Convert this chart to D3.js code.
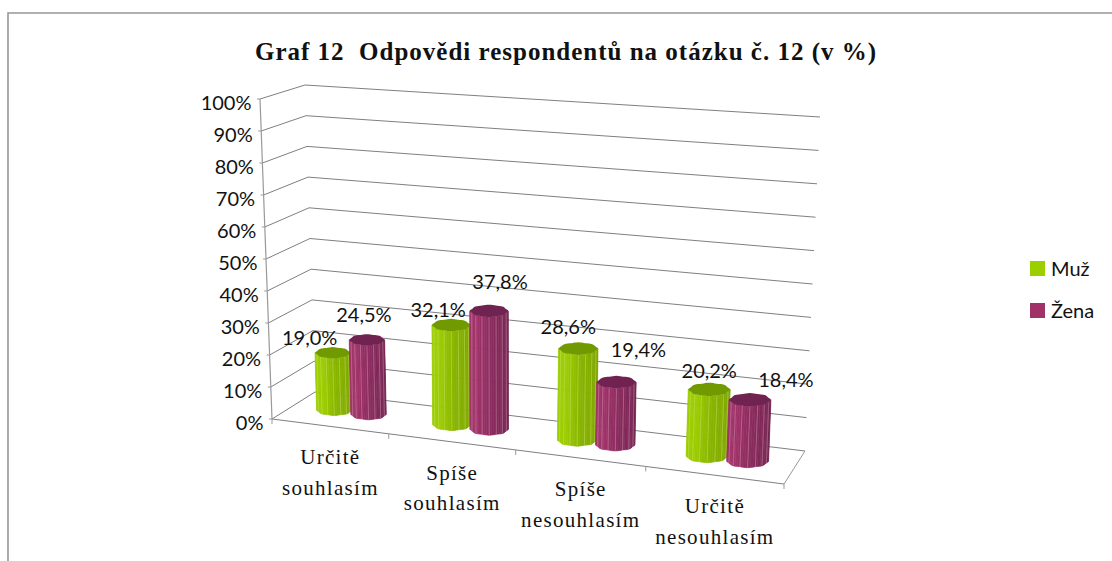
<!DOCTYPE html>
<html><head><meta charset="utf-8">
<script src="https://cdn.jsdelivr.net/npm/d3@7"></script>
<style>html,body{margin:0;padding:0;background:#fff}svg{display:block}</style></head>
<body><div id="c"></div>
<script>
const categories = [["Určitě","souhlasím"],["Spíše","souhlasím"],["Spíše","nesouhlasím"],["Určitě","nesouhlasím"]];
const seriesNames = ["Muž","Žena"];
const muz = [19.0,32.1,28.6,20.2];
const zena = [24.5,37.8,19.4,18.4];
const ticks = [0,10,20,30,40,50,60,70,80,90,100];
const title = "Graf 12  Odpovědi respondentů na otázku č. 12 (v %)";
const seriesValues = [muz, zena];

const W=1112,H=561;
const svg=d3.select("#c").append("svg").attr("width",W).attr("height",H);
svg.append("path").attr("d",`M8,${H}V13H${W}`).attr("fill","none").attr("stroke","#969696").attr("stroke-width",1.6);

// projected box corners
const C={ fl0:[272,419], fr0:[784,484], bl0:[315,392], br0:[805,451],
          fl1:[260,99],  fr1:[801,109], bl1:[305,85],  br1:[820,117] };
const uScale=d3.scaleLinear().domain([0,1,2,3,4]).range([0,.228,.476,.73,1]);
const vScale=d3.scaleLinear().domain([0,100]).range([0,1]);
const barFactor=.95; // bars foreshorten slightly against the walls
const mix=(a,b,t)=>[a[0]+(b[0]-a[0])*t,a[1]+(b[1]-a[1])*t];
function P(cat,d,val){
  const u=uScale(cat),v=vScale(val);
  const f0=mix(C.fl0,C.fr0,u),b0=mix(C.bl0,C.br0,u),f1=mix(C.fl1,C.fr1,u),b1=mix(C.bl1,C.br1,u);
  return mix(mix(f0,b0,d),mix(f1,b1,d),v);
}
const gridC="#7f7f7f";
const seg=(a,b,c=gridC,w=1)=>svg.append("line").attr("x1",a[0]).attr("y1",a[1]).attr("x2",b[0]).attr("y2",b[1]).attr("stroke",c).attr("stroke-width",w);
const font="Lato, sans-serif", serif="'Liberation Serif', serif";

// gridlines on walls
ticks.forEach(t=>{ seg(P(0,0,t),P(0,1,t)); seg(P(0,1,t),P(4,1,t)); });
// floor + axes
seg(P(0,0,0),P(4,0,0)); seg(P(4,0,0),P(4,1,0),"#999");
seg(P(0,0,0),P(0,0,100),"#999",1.2);
ticks.forEach(t=>{const p=P(0,0,t);seg([p[0]-3,p[1]],p,"#999");});
d3.range(0,5).forEach(k=>{const p=P(k,0,0);seg(p,[p[0],p[1]+5],"#999");});

// tick labels
ticks.forEach(t=>{const p=P(0,0,t);
  svg.append("text").attr("x",p[0]-8.5).attr("y",p[1]+11).attr("text-anchor","end")
   .attr("font-family",font).attr("font-size",20).attr("fill","#111").text(t+"%");});

// cylinders
const pal=[{hi:"#9ccc00",lo:"#7ca200",mid:"#88b400",top:"#719a00",edge:"#c8e46a"},
           {hi:"#a03268",lo:"#70244f",mid:"#8a2b5e",top:"#702350",edge:"#d09ab4"}];
const depth=0.52, offs=[-.15,.15], nudge=[[[-23,-15],[-3,-25]],[[-13,-15],[11,-29]],[[-10,-22],[22,-32]],[[0,-18],[36,-20]]];
const poly=d3.line().curve(d3.curveLinearClosed);
const labels=[];
categories.forEach((_,ci)=>{
 seriesValues.forEach((vals,si)=>{
  const val=vals[ci], cat=ci+.5+offs[si], col=pal[si];
  const b=P(cat,depth,0), t0=P(cat,depth,val*barFactor), t=t0;
  const rx=(P(cat+.15,depth,0)[0]-P(cat-.15,depth,0)[0])/2, ry=rx*.32;
  const g=svg.append("g");
  const ramp=d3.scaleLinear().domain([0,.3,.55,1]).range([col.hi,col.hi,col.mid,col.lo]);
  const N=24;
  const sc=a=>1+.035*Math.cos(8*a);
  const pt=(c,a,r=1)=>[c[0]+rx*r*Math.cos(a),c[1]+ry*r*Math.sin(a)];
  d3.range(N).forEach(i=>{
    const a0=Math.PI-i*Math.PI/N,a1=Math.PI-(i+1)*Math.PI/N;
    g.append("path").attr("d",poly([pt(b,a0,sc(a0)),pt(b,a1,sc(a1)),pt(t,a1,sc(a1)),pt(t,a0,sc(a0))]))
     .attr("fill",ramp((i+.5)/N)).attr("stroke",ramp((i+.5)/N)).attr("stroke-width",.6);
  });
  d3.range(1,N).forEach(i=>{ if(i%3) return;
    const a=Math.PI-i*Math.PI/N; const p=pt(b,a),q=pt(t,a);
    g.append("line").attr("x1",p[0]).attr("y1",p[1]).attr("x2",q[0]).attr("y2",q[1])
     .attr("stroke",col.edge).attr("stroke-opacity",.55).attr("stroke-width",.8);
  });
  const M=64;
  const rim=d3.range(M).map(i=>{const a=i/M*2*Math.PI;return pt(t,a,sc(a));});
  g.append("path").attr("d",poly(rim)).attr("fill",col.top);
  labels.push({x:t[0]+nudge[ci][si][0],y:t[1]+nudge[ci][si][1],s:val.toFixed(1).replace(".",",")+"%"});
 });
});
labels.forEach(l=>svg.append("text").attr("x",l.x).attr("y",l.y+7).attr("text-anchor","middle")
  .attr("font-family",font).attr("font-size",20).attr("fill","#111").text(l.s));

// category labels
categories.forEach((lines,ci)=>{
  const p=P(ci+.5,0,0);
  lines.forEach((s,i)=>svg.append("text").attr("x",p[0]).attr("y",p[1]+32+i*30.5+6).attr("text-anchor","middle")
   .attr("font-family",serif).attr("font-size",21).attr("letter-spacing",1.3).attr("fill","#111").text(s));
});

// title
svg.append("text").attr("x",566).attr("y",60).attr("text-anchor","middle").style("white-space","pre")
 .attr("font-family",serif).attr("font-weight","bold").attr("font-size",25).attr("letter-spacing",1).attr("fill","#111").text(title);

// legend
const ly=d3.scaleOrdinal().domain(seriesNames).range([268,310]);
seriesNames.forEach((n,i)=>{
  svg.append("rect").attr("x",1030).attr("y",ly(n)-7).attr("width",15).attr("height",15).attr("fill",i?"#a03268":"#9ccf00");
  svg.append("text").attr("x",1051).attr("y",ly(n)+8).attr("font-family",font).attr("font-size",20).attr("fill","#111").text(n);
});
</script></body></html>
